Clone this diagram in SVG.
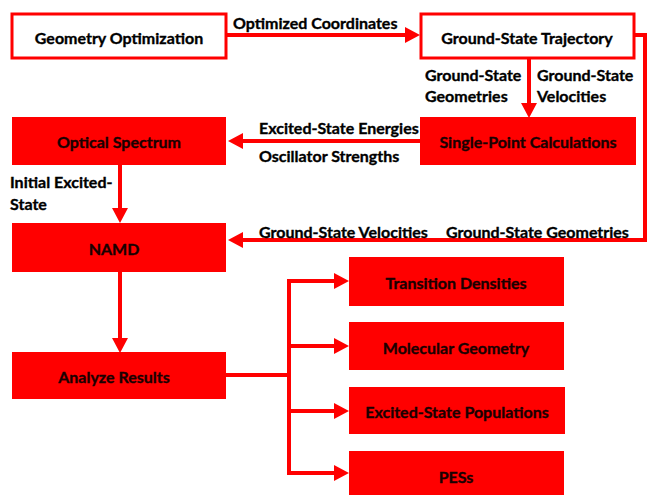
<svg xmlns="http://www.w3.org/2000/svg" width="648" height="495" viewBox="0 0 648 495">
<style>
.wb{fill:#fff;stroke:#f00;stroke-width:3}
.rb{fill:#f00;stroke:none}
.t{font-family:Lato,"Liberation Sans",sans-serif;font-weight:bold;font-size:16px;text-anchor:middle;dominant-baseline:central;stroke-width:0.35px}
.tb{fill:#000;stroke:#000}
.tr{fill:#1a0000;stroke:#1a0000}
.lab{font-family:Lato,"Liberation Sans",sans-serif;font-weight:bold;font-size:16px;fill:#000;stroke:#000;stroke-width:0.35px}
.c{fill:none;stroke:#f00;stroke-width:4}
</style>
<defs>
<marker id="ah" markerUnits="userSpaceOnUse" markerWidth="15" markerHeight="16" refX="1" refY="8" orient="auto">
<path d="M0,0 L15,8 L0,16 z" fill="#f00"/>
</marker>
</defs>
<rect width="648" height="495" fill="#fff"/>
<g id="connectors">
<path class="c" d="M226,35 H406" marker-end="url(#ah)"/>
<path class="c" d="M529,59 V104" marker-end="url(#ah)"/>
<path class="c" d="M420,141 H242" marker-end="url(#ah)"/>
<path class="c" d="M120,165 V209" marker-end="url(#ah)"/>
<path class="c" d="M634,35 H645 V240 H242" marker-end="url(#ah)"/>
<path class="c" d="M120,272 V339" marker-end="url(#ah)"/>
<path class="c" d="M226,375 H289"/>
<path class="c" d="M289,279 V475"/>
<path class="c" d="M287,281 H335" marker-end="url(#ah)"/>
<path class="c" d="M289,346 H335" marker-end="url(#ah)"/>
<path class="c" d="M289,411 H335" marker-end="url(#ah)"/>
<path class="c" d="M287,473 H335" marker-end="url(#ah)"/>
<text class="lab" x="233" y="29">Optimized Coordinates</text>
<text class="lab" x="425" y="81">Ground-State</text>
<text class="lab" x="425" y="102">Geometries</text>
<text class="lab" x="537" y="81">Ground-State</text>
<text class="lab" x="537" y="102">Velocities</text>
<text class="lab" x="259" y="134">Excited-State Energies</text>
<text class="lab" x="259" y="162">Oscillator Strengths</text>
<text class="lab" x="10" y="188">Initial Excited-</text>
<text class="lab" x="10" y="210">State</text>
<text class="lab" x="259" y="238">Ground-State Velocities</text>
<text class="lab" x="446" y="238">Ground-State Geometries</text>
</g>
<g id="geometry-optimization">
<rect class="wb" x="12" y="14" width="214" height="44"/>
<text class="t tb" x="119" y="37">Geometry Optimization</text>
</g>
<g id="ground-state-trajectory">
<rect class="wb" x="421" y="14" width="213" height="44"/>
<text class="t tb" x="527" y="37">Ground-State Trajectory</text>
</g>
<g id="single-point-calculations">
<rect class="rb" x="420" y="117" width="216" height="48"/>
<text class="t tr" x="528" y="141">Single-Point Calculations</text>
</g>
<g id="optical-spectrum">
<rect class="rb" x="12" y="117" width="214" height="48"/>
<text class="t tr" x="119" y="141">Optical Spectrum</text>
</g>
<g id="namd">
<rect class="rb" x="12" y="223" width="214" height="49"/>
<text class="t tr" x="114" y="248">NAMD</text>
</g>
<g id="analyze-results">
<rect class="rb" x="12" y="352" width="214" height="47"/>
<text class="t tr" x="114" y="376">Analyze Results</text>
</g>
<g id="transition-densities">
<rect class="rb" x="349" y="257" width="215" height="49"/>
<text class="t tr" x="456" y="282">Transition Densities</text>
</g>
<g id="molecular-geometry">
<rect class="rb" x="349" y="322" width="215" height="48"/>
<text class="t tr" x="456" y="347">Molecular Geometry</text>
</g>
<g id="excited-state-populations">
<rect class="rb" x="349" y="387" width="216" height="47"/>
<text class="t tr" x="457" y="411">Excited-State Populations</text>
</g>
<g id="pess">
<rect class="rb" x="349" y="451" width="215" height="50"/>
<text class="t tr" x="456" y="476">PESs</text>
</g>
</svg>
